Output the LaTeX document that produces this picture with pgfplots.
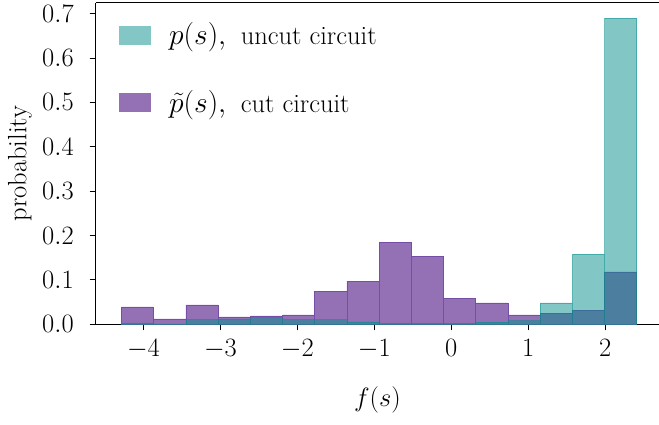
\RequirePackage{fix-cm}
\documentclass[border=0pt]{standalone}
\usepackage{pgfplots}
\pgfplotsset{compat=1.18}
\usetikzlibrary{calc}
\definecolor{tealc}{RGB}{5,143,139}
\definecolor{purp}{RGB}{148,112,180}
\definecolor{purpedge}{RGB}{118,78,168}
\newcommand{\lm}[1]{{\fontsize{29.5bp}{32bp}\selectfont$#1$}}
\begin{document}
\fontsize{26.5bp}{32bp}\selectfont
\begin{tikzpicture}
\begin{axis}[
  name=ax,
  scale only axis,
  width=563.3bp, height=321.6bp,
  xmin=-4.621, xmax=2.70, ymin=0, ymax=0.7245,
  clip=false,
  axis x line*=bottom, axis y line*=left,
  x axis line style={-, line width=1bp},
  y axis line style={-, line width=1bp},
  tick align=outside,
  major tick length=6bp,
  tick style={black, line width=0.9bp},
  xtick={-4,-3,-2,-1,0,1,2},
  ytick={0,0.1,0.2,0.3,0.4,0.5,0.6,0.7},
  yticklabel style={xshift=-7bp, /pgf/number format/.cd, fixed, fixed zerofill, precision=1},
  xlabel={$f(s)$},
  ylabel={probability},
  xlabel style={at={(axis description cs:0.5,-0.2354)}, anchor=center},
  ylabel style={at={(axis description cs:-0.1344,0.5)}, anchor=center, rotate=0},
  reverse legend,
  legend cell align=left,
  legend style={at={(0,1)}, anchor=north west, xshift=23bp, yshift=-17bp,
    draw=none, fill=none, row sep=35bp, inner sep=0pt,
    nodes={inner sep=3pt}},
  legend image code/.code={\path[#1, draw=none] (0bp,-9.5bp) rectangle (32bp,9.5bp); \path (47bp,0bp);},
]
\addplot[ybar interval, fill=purp, draw=purpedge, line width=0.7bp] coordinates {
(-4.2860,0.039) (-3.8674,0.012) (-3.4489,0.0435) (-3.0303,0.0165)
(-2.6118,0.019) (-2.1932,0.021) (-1.7746,0.075) (-1.3561,0.0975)
(-0.9375,0.185) (-0.5190,0.152) (-0.1004,0.059) (0.3182,0.048)
(0.7367,0.021) (1.1553,0.025) (1.5738,0.032) (1.9924,0.118) (2.4110,0)};
\addlegendentry{\lm{\tilde{p}(s),}\hspace{0.55em}cut circuit}
\addplot[ybar interval, fill=tealc, fill opacity=0.5, draw=tealc, draw opacity=0.5, line width=0.7bp] coordinates {
(-4.2860,0.003) (-3.8674,0.001) (-3.4489,0.0113) (-3.0303,0.012)
(-2.6118,0.0158) (-2.1932,0.0105) (-1.7746,0.0105) (-1.3561,0.0053)
(-0.9375,0.002) (-0.5190,0.002) (-0.1004,0.002) (0.3182,0.005)
(0.7367,0.008) (1.1553,0.048) (1.5738,0.158) (1.9924,0.690) (2.4110,0)};
\addlegendentry{\lm{p(s),}\hspace{0.55em}uncut circuit}
\draw[line width=1bp] (rel axis cs:0,1) -- (rel axis cs:1,1);
\end{axis}
\pgfresetboundingbox
\path ($(ax.south west)+(-95.7bp,-99.7bp)$) rectangle ($(ax.north east)+(0bp,2.7bp)$);
\end{tikzpicture}
\end{document}
